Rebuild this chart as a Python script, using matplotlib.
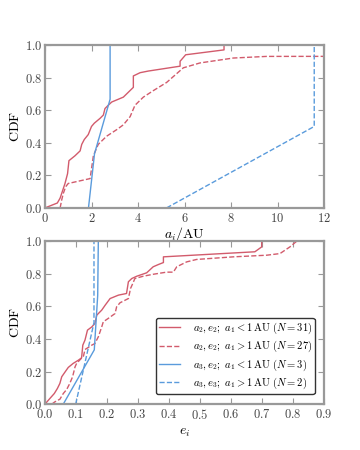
import matplotlib
matplotlib.use("Agg")
import matplotlib.pyplot as plt
import numpy as np

plt.rcParams['mathtext.fontset'] = 'cm'
plt.rcParams['font.family'] = ['DejaVu Serif']

RED = '#d25b6c'
BLUE = '#5a9bdc'

# ---- top panel: semi-major axes ----
a_in_x = [0.0, 0.53, 0.65, 0.72, 0.86, 0.97, 1.03, 1.29, 1.51, 1.58, 1.69, 1.86, 2.0, 2.12,
          2.37, 2.51, 2.58, 2.72, 2.87, 3.37, 3.8, 3.8, 4.09, 4.44, 5.81, 5.81, 6.05, 7.7, 7.7]
a_in_y = [0.0, 0.03, 0.06, 0.09, 0.15, 0.21, 0.29, 0.32, 0.35, 0.39, 0.42, 0.45, 0.50, 0.52,
          0.55, 0.57, 0.61, 0.63, 0.65, 0.68, 0.74, 0.81, 0.83, 0.84, 0.87, 0.90, 0.94, 0.97, 1.0]

a_out_x = [0.65, 0.72, 0.79, 0.89, 1.0, 1.94, 2.08, 2.29, 2.65, 3.08, 3.37, 3.66, 3.87, 4.23,
           4.66, 5.23, 5.95, 6.67, 8.1, 9.53, 40.0, 60.0]
a_out_y = [0.0, 0.05, 0.09, 0.13, 0.15, 0.18, 0.32, 0.39, 0.44, 0.48, 0.51, 0.56, 0.63, 0.68,
           0.72, 0.77, 0.86, 0.89, 0.92, 0.93, 0.933, 1.0]

a3_in_x = [1.87, 2.13, 2.80, 2.80]
a3_in_y = [0.0, 0.333, 0.667, 1.0]

a3_out_x = [5.23, 11.58, 11.58]
a3_out_y = [0.0, 0.5, 1.0]

# ---- bottom panel: eccentricities ----
e_in_x = [0.0, 0.016, 0.030, 0.040, 0.048, 0.054, 0.065, 0.075, 0.091, 0.108, 0.118, 0.122,
          0.129, 0.137, 0.151, 0.161, 0.167, 0.183, 0.194, 0.21, 0.237, 0.263, 0.269, 0.28,
          0.296, 0.328, 0.349, 0.366, 0.382, 0.382, 0.677, 0.699, 0.699]
e_in_y = [0.0, 0.035, 0.065, 0.096, 0.127, 0.168, 0.198, 0.225, 0.25, 0.27, 0.284, 0.362,
          0.393, 0.454, 0.474, 0.495, 0.546, 0.577, 0.607, 0.648, 0.669, 0.679, 0.751, 0.771,
          0.785, 0.806, 0.843, 0.857, 0.869, 0.904, 0.935, 0.965, 1.0]

e_out_x = [0.022, 0.032, 0.048, 0.059, 0.07, 0.08, 0.089, 0.097, 0.102, 0.124, 0.129, 0.151,
           0.161, 0.172, 0.183, 0.188, 0.204, 0.226, 0.231, 0.242, 0.269, 0.276, 0.283, 0.29,
           0.317, 0.349, 0.392, 0.414, 0.425, 0.457, 0.489, 0.608, 0.715, 0.758, 0.79, 0.812]
e_out_y = [0.0, 0.014, 0.03, 0.065, 0.09, 0.127, 0.168, 0.229, 0.25, 0.294, 0.335, 0.362,
           0.372, 0.413, 0.474, 0.505, 0.526, 0.556, 0.597, 0.622, 0.648, 0.71, 0.74, 0.771,
           0.785, 0.797, 0.81, 0.81, 0.843, 0.873, 0.888, 0.904, 0.914, 0.924, 0.965, 1.0]

e3_in_x = [0.059, 0.159, 0.170, 0.172]
e3_in_y = [0.0, 0.333, 0.667, 1.0]

e3_out_x = [0.099, 0.158, 0.158]
e3_out_y = [0.0, 0.5, 1.0]

labels = [r'$a_2, e_2;\ a_1 < 1\,\mathrm{AU}\ (N = 31)$',
          r'$a_2, e_2;\ a_1 > 1\,\mathrm{AU}\ (N = 27)$',
          r'$a_3, e_2;\ a_1 < 1\,\mathrm{AU}\ (N = 3)$',
          r'$a_3, e_3;\ a_1 > 1\,\mathrm{AU}\ (N = 2)$']

fig = plt.figure(figsize=(3.6, 4.5), dpi=100)
ax1 = fig.add_axes([0.125, 0.538, 0.775, 0.362])
ax2 = fig.add_axes([0.125, 0.102, 0.775, 0.362])

lw = 1.0
ax1.plot(a_in_x, a_in_y, color=RED, lw=lw, ls='-')
ax1.plot(a_out_x, a_out_y, color=RED, lw=lw, ls='--')
ax1.plot(a3_in_x, a3_in_y, color=BLUE, lw=lw, ls='-')
ax1.plot(a3_out_x, a3_out_y, color=BLUE, lw=lw, ls='--')

ax2.plot(e_in_x, e_in_y, color=RED, lw=lw, ls='-', label=labels[0])
ax2.plot(e_out_x, e_out_y, color=RED, lw=lw, ls='--', label=labels[1])
ax2.plot(e3_in_x, e3_in_y, color=BLUE, lw=lw, ls='-', label=labels[2])
ax2.plot(e3_out_x, e3_out_y, color=BLUE, lw=lw, ls='--', label=labels[3])

ax1.set_xlim(0, 12)
ax1.set_ylim(0, 1)
ax1.set_xticks(np.arange(0, 13, 2))
ax1.set_xticklabels([r'$%d$' % v for v in np.arange(0, 13, 2)])
ax2.set_xlim(0, 0.9)
ax2.set_ylim(0, 1)
ax2.set_xticks(np.arange(0, 0.91, 0.1))
ax2.set_xticklabels([r'$%.1f$' % v for v in np.arange(0, 0.91, 0.1)])

for ax in (ax1, ax2):
    ax.set_yticks(np.arange(0, 1.01, 0.2))
    ax.set_yticklabels([r'$%.1f$' % v for v in np.arange(0, 1.01, 0.2)])
    for s in ax.spines.values():
        s.set_color('#999999')
        s.set_linewidth(1.6)
    ax.tick_params(direction='in', top=True, right=True, length=4, width=0.8,
                   color='#999999', labelsize=9, labelcolor='#444444', pad=2)
    ax.tick_params(axis='x', pad=3)
    ax.set_ylabel(r'$\mathrm{CDF}$', fontsize=10, labelpad=2)

ax1.set_xlabel(r'$a_i/\mathrm{AU}$', fontsize=10, labelpad=0)
ax2.set_xlabel(r'$e_i$', fontsize=10, labelpad=2)

leg = ax2.legend(loc='lower right', fontsize=7.6, fancybox=True, framealpha=1,
                 handlelength=2.0, handletextpad=1.2, borderpad=0.25, labelspacing=0.3,
                 bbox_to_anchor=(0.985, 0.03))
leg.get_frame().set_edgecolor('#333333')
leg.get_frame().set_linewidth(1.0)

fig.savefig('out.png', dpi=100)
